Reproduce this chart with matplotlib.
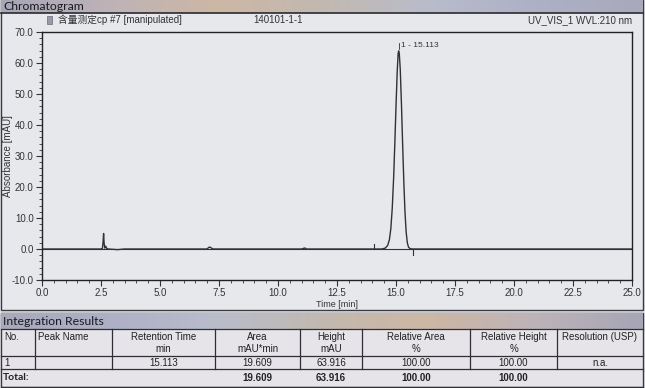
import matplotlib.pyplot as plt
import numpy as np
from matplotlib.colors import LinearSegmentedColormap
from matplotlib.patches import Rectangle

# chromatogram trace (time in min, absorbance in mAU)
time_min = [0.0, 1.0, 2.0, 2.50, 2.56, 2.59, 2.61, 2.63, 2.66, 2.70, 2.74, 2.80,
            3.2, 3.5, 4.0, 5.0, 6.0, 7.0, 7.06, 7.12, 7.18, 7.24, 8.0, 9.0,
            10.0, 11.0, 11.10, 11.15, 11.20, 12.0, 13.0, 14.0, 14.40, 14.55,
            14.65, 14.72, 14.78, 14.84, 14.90, 14.95, 15.00, 15.05, 15.09, 15.113,
            15.14, 15.18, 15.23, 15.28, 15.33, 15.38, 15.43, 15.48, 15.53, 15.60,
            15.70, 16.0, 17.0, 18.0, 19.0, 20.0, 21.0, 22.0, 23.0, 24.0, 25.0]
absorb = [0.0, 0.0, 0.0, 0.0, 0.2, 2.5, 5.0, 2.0, 0.3, 0.9, 0.2, 0.0,
          -0.2, 0.0, 0.0, 0.0, 0.0, 0.0, 0.5, 0.6, 0.3, 0.0, 0.0, 0.0,
          0.0, 0.0, 0.25, 0.3, 0.0, 0.0, 0.0, 0.0, 0.0, 0.3,
          1.2, 3.0, 6.5, 13.0, 23.0, 34.0, 46.0, 57.0, 63.0, 63.916,
          63.0, 58.0, 47.0, 34.0, 22.0, 12.0, 5.5, 2.0, 0.6, 0.1,
          0.0, 0.0, 0.0, 0.0, 0.0, 0.0, 0.0, 0.0, 0.0, 0.0, 0.0]

peak_time = 15.113
peak_label = "1 - 15.113"
base_start, base_end = 14.07, 15.71

sample_name = "含量测定cp #7 [manipulated]"
sample_id = "140101-1-1"
detector = "UV_VIS_1 WVL:210 nm"

# integration table
col_header1 = ["No.", "Peak Name", "Retention Time", "Area", "Height",
               "Relative Area", "Relative Height", "Resolution (USP)"]
col_header2 = ["", "", "min", "mAU*min", "mAU", "%", "%", ""]
row1 = ["1", "", "15.113", "19.609", "63.916", "100.00", "100.00", "n.a."]
total_row = ["Total:", "", "", "19.609", "63.916", "100.00", "100.00", ""]

plt.rcParams['font.family'] = ['Liberation Sans', 'Noto Sans CJK SC']

W, H = 645, 388
fig = plt.figure(figsize=(W / 100, H / 100), dpi=100)
fig.patch.set_facecolor('#e3e5ea')

bg = fig.add_axes([0, 0, 1, 1], zorder=0)
bg.set_xlim(0, W)
bg.set_ylim(H, 0)
bg.axis('off')

band = LinearSegmentedColormap.from_list(
    'band', ['#a7a6b6', '#bdb3b8', '#cdb7a4', '#c2b9b0', '#b9bccb', '#aeb0c6', '#a8a9bb'])
grad = np.linspace(0, 1, 256).reshape(1, -1)

# chart section frame and banner
bg.add_patch(Rectangle((1, 0), 642, 310, fc='#e6e8ec', ec='#3a3a40', lw=1.0))
bg.imshow(grad, cmap=band, aspect='auto', extent=(1, 643, 13, 0), zorder=2)
bg.plot([1, 643], [13, 13], color='#2a2a30', lw=1.2, zorder=3)
bg.text(3, 7, "Chromatogram", family='Lato', fontsize=8.8, va='center',
        color='#1a1a22', zorder=4)

# table section
bg.add_patch(Rectangle((1, 313), 642, 74, fc='#e6e4e8', ec='#3a3a40', lw=1.0))
bg.imshow(grad[:, ::-1], cmap=band, aspect='auto', extent=(1, 643, 329, 313), zorder=2)
bg.text(3, 321.5, "Integration Results", family='Lato', fontsize=8.8, va='center',
        color='#1a1a22', zorder=4)

col_edges = [1, 35, 112, 215, 300, 362, 470, 557, 643]
for y in (329, 356, 369, 387):
    bg.plot([1, 643], [y, y], color='#2e2e36', lw=0.9, zorder=3)
for x in col_edges[1:-1]:
    bg.plot([x, x], [329, 369], color='#2e2e36', lw=0.9, zorder=3)

for i in range(8):
    xl, xr = col_edges[i], col_edges[i + 1]
    xc = (xl + xr) / 2
    if i < 2:
        bg.text(xl + 3, 336.5, col_header1[i], fontsize=7, va='center', color='#222')
        bg.text(xl + 3, 362.5, row1[i], fontsize=7, va='center', color='#222')
    else:
        bg.text(xc, 336.5, col_header1[i], fontsize=7, va='center', ha='center', color='#222')
        bg.text(xc, 348.5, col_header2[i], fontsize=7, va='center', ha='center', color='#222')
        bg.text(xc, 362.5, row1[i], fontsize=7, va='center', ha='center', color='#222')
    if total_row[i]:
        if i == 0:
            bg.text(3, 378, total_row[i], family='Lato', fontsize=7.5, weight='bold',
                    va='center', color='#222')
        else:
            bg.text(xc, 378, total_row[i], fontsize=7, weight='bold', va='center',
                    ha='center', color='#222')

# chart header line and y label
bg.text(58, 20, sample_name, fontsize=7, va='center', color='#333')
bg.add_patch(Rectangle((47, 16), 5, 8, fc='#9a9aa6', ec='#6a6a78', lw=0.5))
bg.text(278, 20, sample_id, fontsize=7, va='center', ha='center', color='#333')
bg.text(632, 20, detector, fontsize=7, va='center', ha='right', color='#333')
bg.text(8.5, 156, "Absorbance [mAU]", fontsize=7, rotation=90, va='center',
        ha='center', color='#333', zorder=4)

# chromatogram axes
ax = fig.add_axes([42 / W, 1 - 280 / H, 590 / W, 248 / H], zorder=1)
ax.set_facecolor('#e6e8ec')
ax.plot(time_min, absorb, color='#303036', lw=1.0)
ax.plot([0, 25], [0, 0], color='#303036', lw=0.8, zorder=0)
ax.plot([base_start, base_start], [0, 1.6], color='#303036', lw=0.8)
ax.plot([base_end, base_end], [0, -2.0], color='#303036', lw=0.8)
ax.plot([peak_time, peak_time], [64.5, 66.5], color='#303036', lw=0.6)
ax.text(peak_time + 0.08, 65.6, peak_label, fontsize=6, va='center', color='#333')

ax.set_xlim(0, 25)
ax.set_ylim(-10, 70)
ax.set_xticks(np.arange(0, 25.1, 2.5))
ax.set_xticks(np.arange(0, 25.1, 0.5), minor=True)
ax.set_yticks(np.arange(-10, 70.1, 10))
ax.set_yticks(np.arange(-10, 70.1, 2), minor=True)
ax.xaxis.set_major_formatter(plt.FormatStrFormatter('%.1f'))
ax.yaxis.set_major_formatter(plt.FormatStrFormatter('%.1f'))
ax.tick_params(axis='both', which='major', length=4, width=0.8, labelsize=7,
               colors='#333', direction='out', pad=2)
ax.tick_params(axis='both', which='minor', length=2, width=0.6, colors='#333',
               direction='out')
for s in ax.spines.values():
    s.set_color('#222')
    s.set_linewidth(1.0)
ax.set_xlabel("Time [min]", fontsize=6.5, color='#333', labelpad=1)

fig.savefig('out.png', dpi=100, facecolor=fig.get_facecolor())
